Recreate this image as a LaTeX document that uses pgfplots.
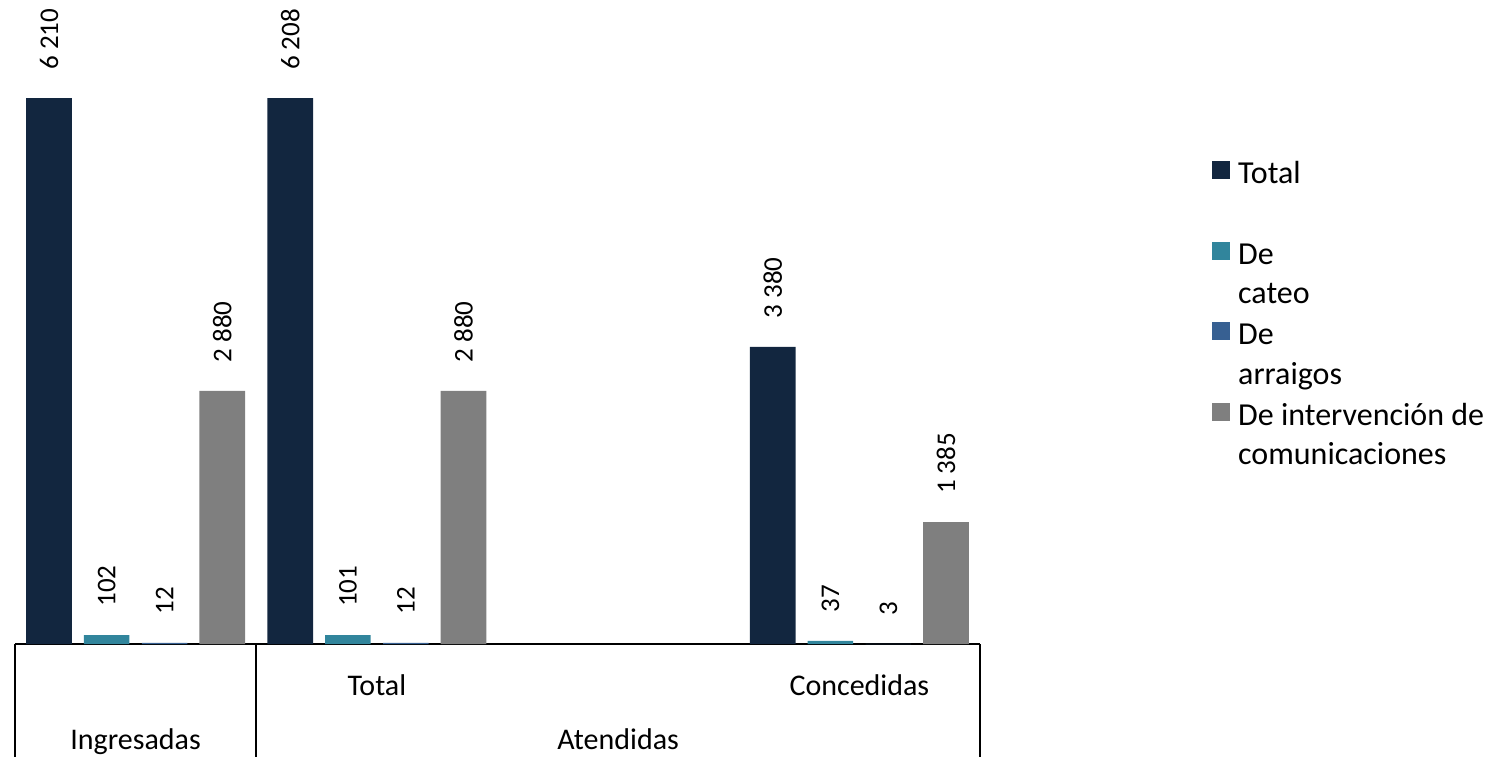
\documentclass[border=0pt]{standalone}
\usepackage{pgfplots}
\pgfplotsset{compat=1.18}
\usepackage{fontspec}
\setmainfont{Carlito}
\definecolor{cTot}{HTML}{12263F}
\definecolor{cCat}{HTML}{31859C}
\definecolor{cArr}{HTML}{376092}
\definecolor{cInt}{HTML}{7F7F7F}
\begin{document}
\begin{tikzpicture}
\begin{axis}[
  scale only axis, width=482.5pt, height=322pt,
  xmin=-0.5, xmax=3.5, ymin=0, ymax=7325,
  axis x line*=bottom, axis y line=none,
  x axis line style={-, line width=0.8pt},
  xtick={1,3}, xticklabels={Total,Concedidas},
  major tick length=0pt,
  xticklabel style={anchor=base, yshift=-25.75pt, font=\fontsize{15}{18}\selectfont},
  ytick=\empty,
  ybar, bar width=0.189,
  clip=false,
  nodes near coords={\pgfmathprintnumber[assume math mode=true,1000 sep={\ }]{\pgfplotspointmeta}},
  nodes near coords style={rotate=90, anchor=west, inner xsep=14pt, font=\fontsize{13.5}{16}\selectfont, text=black},
  legend cell align=left,
  legend image code/.code={\fill[#1] (-3pt,-4pt) rectangle (6pt,5pt);},
  legend style={at={(1.234,0.765)}, anchor=north west, draw=none, fill=none,
    font=\fontsize{16}{19.75}\selectfont, row sep=25pt, nodes={inner sep=0pt},
    /tikz/every odd column/.append style={column sep=4pt}},
]
\addplot[fill=cTot, draw=none, bar shift=-0.359] coordinates {(0,6210) (1,6208) (3,3380)};
\addplot[fill=cCat, draw=none, bar shift=-0.12] coordinates {(0,102) (1,101) (3,37)};
\addplot[fill=cArr, draw=none, bar shift=0.12] coordinates {(0,12) (1,12) (3,3)};
\addplot[fill=cInt, draw=none, bar shift=0.359] coordinates {(0,2880) (1,2880) (3,1385)};
\legend{{\begin{tabular}[t]{@{}l@{}}Total\\ \mbox{}\end{tabular}},
        {\begin{tabular}[t]{@{}l@{}}De\\ cateo\end{tabular}},
        {\begin{tabular}[t]{@{}l@{}}De\\ arraigos\end{tabular}},
        {\begin{tabular}[t]{@{}l@{}}De intervención de\\ comunicaciones\end{tabular}}}
\coordinate (O) at (rel axis cs:0,0);
\node[font=\fontsize{15}{18}\selectfont, anchor=base] at ([yshift=-52.75pt]axis cs:0,0) {Ingresadas};
\node[font=\fontsize{15}{18}\selectfont, anchor=base] at ([yshift=-52.75pt]axis cs:2,0) {Atendidas};
\draw[line width=0.8pt] (axis cs:-0.5,0) -- ([yshift=-56.5pt]axis cs:-0.5,0);
\draw[line width=0.8pt] (axis cs:0.5,0) -- ([yshift=-56.5pt]axis cs:0.5,0);
\draw[line width=0.8pt] (axis cs:3.5,0) -- ([yshift=-56.5pt]axis cs:3.5,0);
\end{axis}
\pgfresetboundingbox
\path (O) ++(-7.5pt,-56.5pt) rectangle ++(745.5pt,378.5pt);
\end{tikzpicture}
\end{document}
